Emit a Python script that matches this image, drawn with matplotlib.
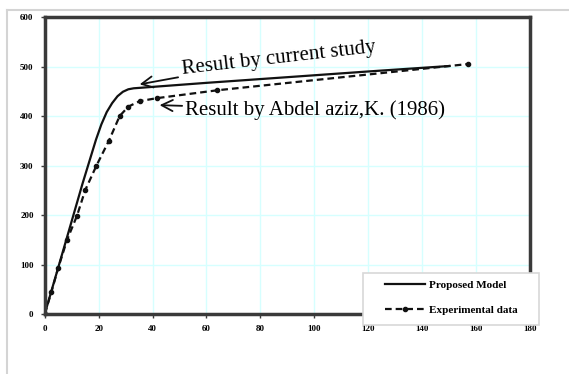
import matplotlib.pyplot as plt
from matplotlib.lines import Line2D
from matplotlib.patches import Rectangle

# Proposed model (solid line)
model_x = [0, 8, 14, 19, 21, 23, 25, 27, 29, 31, 33, 60, 94, 120, 150]
model_y = [0, 150, 263, 352, 383, 408, 426, 440, 449, 454, 456, 467, 480, 490, 501]

# Experimental data (dashed line with dots)
exp_x = [0, 2.5, 5, 8.3, 12, 15, 19.2, 23.8, 27.8, 31, 35.2, 41.5, 64, 157]
exp_y = [0, 45, 93, 150, 199, 250, 300, 350, 400, 419, 430, 436, 452, 505]

x_ticks = [0, 20, 40, 60, 80, 100, 120, 140, 160, 180]
y_ticks = [0, 100, 200, 300, 400, 500, 600]

serif = ['Liberation Serif', 'DejaVu Serif']

fig = plt.figure(figsize=(5.69, 3.74), dpi=100)
ax = fig.add_axes([0.0786, 0.1604, 0.8529, 0.7941])

# light grey outer frame of the original screenshot
fig.add_artist(Line2D([7 / 569, 7 / 569], [0, 1 - 10 / 374], transform=fig.transFigure,
                      color='#d4d4d4', lw=1.5))
fig.add_artist(Line2D([7 / 569, 1], [1 - 10 / 374, 1 - 10 / 374], transform=fig.transFigure,
                      color='#d4d4d4', lw=1.5))

l1, = ax.plot(model_x, model_y, color='#111111', lw=1.6, label='Proposed Model')
l2, = ax.plot(exp_x, exp_y, color='#111111', lw=1.6, ls=(0, (3, 1.8)), marker='o', ms=3,
              label='Experimental data')

ax.set_xlim(0, 180)
ax.set_ylim(0, 600)
ax.set_xticks(x_ticks)
ax.set_yticks(y_ticks)
ax.grid(True, color='#d6ffff', lw=1)
ax.set_axisbelow(True)
for s in ax.spines.values():
    s.set_linewidth(2.5)
    s.set_color('#3a3a3a')
ax.tick_params(length=3, width=1, color='#3a3a3a', labelsize=6.5, pad=5)
for lab in ax.get_xticklabels() + ax.get_yticklabels():
    lab.set_family(serif)
    lab.set_fontweight('bold')

ax.annotate('Result by current study', xy=(35.2, 464), xytext=(50.5, 474),
            textcoords='data', fontsize=15, family=serif, rotation=6.5,
            ha='left', va='bottom',
            arrowprops=dict(arrowstyle='->', lw=1.3, color='#111111',
                            shrinkA=0, shrinkB=0, mutation_scale=20))
ax.annotate('Result by Abdel aziz,K. (1986)', xy=(42.6, 422), xytext=(52, 412),
            textcoords='data', fontsize=15, family=serif,
            ha='left', va='center',
            arrowprops=dict(arrowstyle='->', lw=1.3, color='#111111',
                            shrinkA=0, shrinkB=0, mutation_scale=20))

# legend box sits over the lower right corner of the plot frame
fig.add_artist(Rectangle((363 / 569, 1 - 325 / 374), 176 / 569, 52 / 374,
                         transform=fig.transFigure, facecolor='white',
                         edgecolor='#d8d8d8', lw=1.2, zorder=4.5))
fig.legend([l1, l2], ['Proposed Model', 'Experimental data'], loc='upper left',
           bbox_to_anchor=(385 / 569, 1 - 280 / 374), frameon=False, borderpad=0,
           prop={'family': serif, 'size': 8, 'weight': 'bold'}, handlelength=3.6,
           handletextpad=0.4, labelspacing=1.35, borderaxespad=0)

fig.savefig('out.png', dpi=100)
